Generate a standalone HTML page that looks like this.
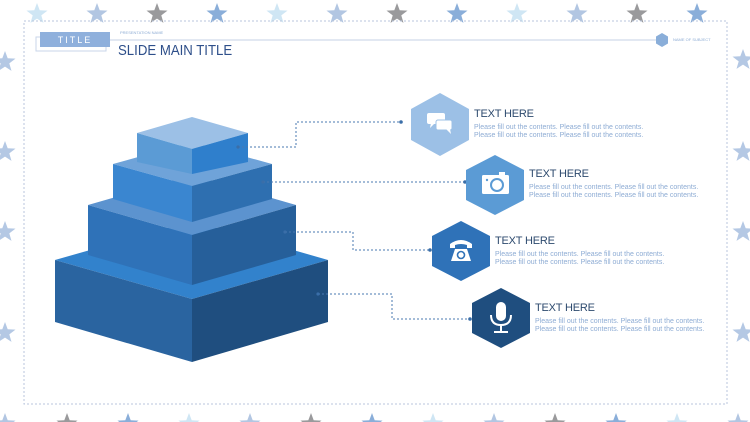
<!DOCTYPE html>
<html><head><meta charset="utf-8"><style>
body{margin:0;width:750px;height:422px;overflow:hidden;background:#fff;font-family:"Liberation Sans",sans-serif;position:relative}
.t{position:absolute;white-space:nowrap}
.h{font-size:11px;color:#2d4a6e;letter-spacing:-0.2px}
.b{font-size:7px;color:#8eacd4;line-height:8px}
</style></head><body>
<svg width="750" height="422" style="position:absolute;left:0;top:0">
<defs><polygon id="s" points="0,-11 2.7,-3.7 10.5,-3.4 4.3,1.4 6.5,8.9 0,4.6 -6.5,8.9 -4.3,1.4 -10.5,-3.4 -2.7,-3.7"/></defs>
<g>
<use href="#s" x="37" y="14" fill="#cfe6f4"/><use href="#s" x="97" y="14" fill="#b2c6e2"/><use href="#s" x="157" y="14" fill="#9a9a9c"/><use href="#s" x="217" y="14" fill="#8aaed9"/>
<use href="#s" x="277" y="14" fill="#cfe6f4"/><use href="#s" x="337" y="14" fill="#b2c6e2"/><use href="#s" x="397" y="14" fill="#9a9a9c"/><use href="#s" x="457" y="14" fill="#8aaed9"/>
<use href="#s" x="517" y="14" fill="#cfe6f4"/><use href="#s" x="577" y="14" fill="#b2c6e2"/><use href="#s" x="637" y="14" fill="#9a9a9c"/><use href="#s" x="697" y="14" fill="#8aaed9"/>
<use href="#s" x="5" y="424" fill="#b2c6e2"/><use href="#s" x="67" y="424" fill="#9a9a9c"/><use href="#s" x="128" y="424" fill="#8aaed9"/><use href="#s" x="189" y="424" fill="#cfe6f4"/>
<use href="#s" x="250" y="424" fill="#b2c6e2"/><use href="#s" x="311" y="424" fill="#9a9a9c"/><use href="#s" x="372" y="424" fill="#8aaed9"/><use href="#s" x="433" y="424" fill="#cfe6f4"/>
<use href="#s" x="494" y="424" fill="#b2c6e2"/><use href="#s" x="555" y="424" fill="#9a9a9c"/><use href="#s" x="616" y="424" fill="#8aaed9"/><use href="#s" x="677" y="424" fill="#cfe6f4"/><use href="#s" x="738" y="424" fill="#b2c6e2"/>
<use href="#s" x="5" y="62" fill="#b4c8e4"/><use href="#s" x="5" y="152" fill="#b4c8e4"/><use href="#s" x="5" y="232" fill="#b4c8e4"/><use href="#s" x="5" y="333" fill="#b4c8e4"/>
<use href="#s" x="743" y="60" fill="#b4c8e4"/><use href="#s" x="743" y="152" fill="#b4c8e4"/><use href="#s" x="743" y="232" fill="#b4c8e4"/><use href="#s" x="743" y="333" fill="#b4c8e4"/>
</g>
<rect x="24" y="21" width="703" height="383" fill="none" stroke="#b8c6dc" stroke-width="1" stroke-dasharray="2,2"/>
<rect x="36" y="37" width="70" height="14" fill="#fff" stroke="#c8d6ea"/>
<rect x="40" y="32" width="70" height="15" fill="#8fb0dc"/>
<line x1="110" y1="40" x2="658" y2="40" stroke="#c6d2e4" stroke-width="1"/>
<polygon points="662,33 668,36.5 668,43.5 662,47 656,43.5 656,36.5" fill="#8aaed9"/>
<polygon points="55,260 192,221 328,260 192,299" fill="#3282cc"/>
<polygon points="55,260 192,299 192,362 55,322" fill="#2a64a0"/>
<polygon points="192,299 328,260 328,322 192,362" fill="#1f4e7f"/>
<polygon points="88,205 192,175 296,205 192,235" fill="#5c93cf"/>
<polygon points="88,205 192,235 192,285 88,255" fill="#2f72b8"/>
<polygon points="192,235 296,205 296,255 192,285" fill="#265f9a"/>
<polygon points="113,164 192,142 272,164 192,186" fill="#6fa3d9"/>
<polygon points="113,164 192,186 192,222 113,199" fill="#3a86d0"/>
<polygon points="192,186 272,164 272,199 192,222" fill="#2e6fb0"/>
<polygon points="137,133 192,117 248,133 192,149" fill="#9cc0e6"/>
<polygon points="137,133 192,149 192,174 137,162" fill="#5b9bd5"/>
<polygon points="192,149 248,133 248,162 192,174" fill="#2f7fcc"/>
<g fill="none" stroke="#4a78b0" stroke-width="1" stroke-dasharray="2,2">
<polyline points="238,147 296,147 296,122 401,122"/>
<polyline points="263,182 465,182"/>
<polyline points="285,232 353,232 353,250 430,250"/>
<polyline points="318,294 392,294 392,319 470,319"/>
</g>
<g fill="#3a6ea8"><circle cx="238" cy="147" r="1.6"/><circle cx="401" cy="122" r="1.8"/><circle cx="263" cy="182" r="1.6"/><circle cx="465" cy="182" r="1.8"/><circle cx="285" cy="232" r="1.6"/><circle cx="430" cy="250" r="1.8"/><circle cx="318" cy="294" r="1.6"/><circle cx="470" cy="319" r="1.8"/></g>
<polygon points="440,93 469,109 469,140 440,156 411,140 411,109" fill="#9cc0e6"/>
<polygon points="495,155 524,170 524,200 495,215 466,200 466,170" fill="#5b9bd5"/>
<polygon points="461,221 490,236 490,266 461,281 432,266 432,236" fill="#2f72b8"/>
<polygon points="501,288 530,303 530,333 501,348 472,333 472,303" fill="#1f4e7f"/>
<g fill="#fff">
<rect x="427" y="113" width="18" height="11" rx="2"/><polygon points="431,123 435,123 430,128"/>
<rect x="436" y="120" width="16" height="10" rx="2" stroke="#9cc0e6" stroke-width="1"/><polygon points="446,129 450,129 451,134"/>
<rect x="482" y="175" width="27" height="19" rx="1.5"/><rect x="499" y="172" width="6" height="4"/>
</g>
<circle cx="497" cy="185" r="6" fill="none" stroke="#5b9bd5" stroke-width="2"/><circle cx="487" cy="180" r="1.2" fill="#5b9bd5"/>
<g fill="#fff">
<path d="M450,244 q11,-8 22,0 l0,4 -5,0 0,-3 q-6,-2 -12,0 l0,3 -5,0z"/>
<path d="M455,249 l12,0 4,12 -20,0z"/>
</g>
<circle cx="461" cy="255" r="3.5" fill="none" stroke="#2f72b8" stroke-width="1.6"/>
<rect x="496" y="302" width="10" height="19" rx="5" fill="#fff"/>
<path d="M491,315 q0,10 10,10 q10,0 10,-10" fill="none" stroke="#fff" stroke-width="2"/>
<line x1="501" y1="325" x2="501" y2="332" stroke="#fff" stroke-width="2"/><line x1="494" y1="332" x2="508" y2="332" stroke="#fff" stroke-width="2"/>
</svg>
<div class="t" style="left:40px;top:33px;width:70px;text-align:center;font-size:9px;color:#fff;letter-spacing:2px;line-height:14px">TITLE</div>
<div class="t" style="left:120px;top:30px;font-size:4px;color:#8eacd4">PRESENTATION NAME</div>
<div class="t" style="left:118px;top:42px;font-size:15px;color:#2e4f8a;transform:scaleX(0.88);transform-origin:left">SLIDE MAIN TITLE</div>
<div class="t" style="left:673px;top:37px;font-size:4px;color:#8eacd4">NAME OF SUBJECT</div>
<div class="t h" style="left:474px;top:108px">TEXT HERE</div>
<div class="t b" style="left:474px;top:124px">Please fill out the contents. Please fill out the contents.<br>Please fill out the contents. Please fill out the contents.</div>
<div class="t h" style="left:529px;top:168px">TEXT HERE</div>
<div class="t b" style="left:529px;top:184px">Please fill out the contents. Please fill out the contents.<br>Please fill out the contents. Please fill out the contents.</div>
<div class="t h" style="left:495px;top:235px">TEXT HERE</div>
<div class="t b" style="left:495px;top:251px">Please fill out the contents. Please fill out the contents.<br>Please fill out the contents. Please fill out the contents.</div>
<div class="t h" style="left:535px;top:302px">TEXT HERE</div>
<div class="t b" style="left:535px;top:318px">Please fill out the contents. Please fill out the contents.<br>Please fill out the contents. Please fill out the contents.</div>
</body></html>
